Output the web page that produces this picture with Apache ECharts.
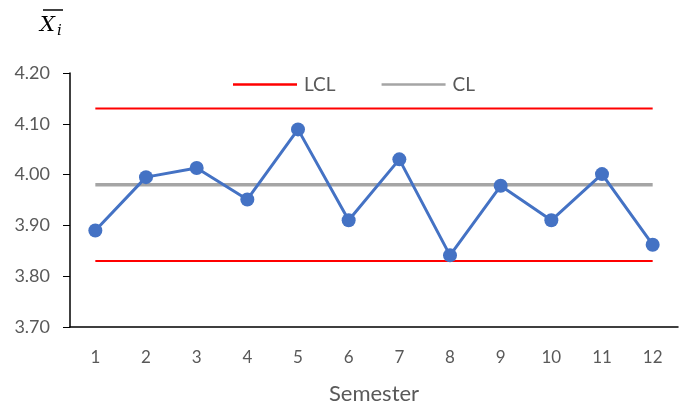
<!DOCTYPE html>
<html><head><meta charset="utf-8">
<script src="https://cdn.jsdelivr.net/npm/echarts@6/dist/echarts.min.js"></script>
<style>html,body{margin:0;padding:0;background:#fff}#c{width:687px;height:410px}</style>
</head><body><div id="c"></div>
<script>
var categories = ['1','2','3','4','5','6','7','8','9','10','11','12'];
var xbar = [3.89, 3.995, 4.013, 3.951, 4.089, 3.910, 4.030, 3.841, 3.978, 3.910, 4.001, 3.862];
var ucl = [4.13, 4.13, 4.13, 4.13, 4.13, 4.13, 4.13, 4.13, 4.13, 4.13, 4.13, 4.13];
var cl  = [3.98, 3.98, 3.98, 3.98, 3.98, 3.98, 3.98, 3.98, 3.98, 3.98, 3.98, 3.98];
var lcl = [3.83, 3.83, 3.83, 3.83, 3.83, 3.83, 3.83, 3.83, 3.83, 3.83, 3.83, 3.83];
var yTicks = {min: 3.7, max: 4.2, interval: 0.1};

var font = 'Lato, "Open Sans", sans-serif';
var chart = echarts.init(document.getElementById('c'));
chart.setOption({
  animation: false,
  backgroundColor: '#fff',
  grid: {left: 70, right: 9, top: 73, bottom: 83, containLabel: false},
  legend: {
    data: [{name: 'LCL', icon: 'rect'}, {name: 'CL', icon: 'rect'}],
    left: 228, top: 70,
    itemWidth: 64, itemHeight: 2.5, itemGap: 46,
    textStyle: {color: '#595959', fontSize: 19, fontFamily: font, padding: [0,0,0,2]}
  },
  graphic: [
    {type: 'text', left: 40, top: 15, style: {text: 'X', font: 'italic 21px "DejaVu Serif", serif', fill: '#000'}},
    {type: 'text', left: 57, top: 24, style: {text: 'i', font: 'italic 15px "DejaVu Serif", serif', fill: '#000'}},
    {type: 'line', shape: {x1: 43, y1: 10, x2: 63, y2: 10}, style: {stroke: '#000', lineWidth: 1.5}}
  ],
  xAxis: {
    type: 'category', data: categories, boundaryGap: true,
    name: 'Semester', nameLocation: 'middle', nameGap: 56,
    nameTextStyle: {color: '#595959', fontSize: 22, fontFamily: font},
    axisLine: {lineStyle: {color: '#000', width: 1.5}},
    axisTick: {show: false},
    axisLabel: {color: '#595959', fontSize: 17, fontFamily: font, margin: 22}
  },
  yAxis: {
    type: 'value', min: yTicks.min, max: yTicks.max, interval: yTicks.interval,
    axisLine: {show: true, lineStyle: {color: '#000', width: 1.5}},
    axisTick: {show: true, length: 7, lineStyle: {color: '#000'}},
    splitLine: {show: false},
    axisLabel: {color: '#595959', fontSize: 18, fontFamily: font, margin: 20,
      formatter: function (v) { return v.toFixed(2); }}
  },
  series: [
    {name: 'UCL', type: 'line', data: ucl, symbol: 'none', lineStyle: {color: '#FF0000', width: 2}, itemStyle: {color: '#FF0000'}, z: 1},
    {name: 'LCL', type: 'line', data: lcl, symbol: 'none', lineStyle: {color: '#FF0000', width: 2}, itemStyle: {color: '#FF0000'}, z: 1},
    {name: 'CL', type: 'line', data: cl, symbol: 'none', lineStyle: {color: '#A5A5A5', width: 3.5}, itemStyle: {color: '#A5A5A5'}, z: 1},
    {name: 'Xbar', type: 'line', data: xbar, symbol: 'circle', symbolSize: 14,
      lineStyle: {color: '#4472C4', width: 3}, itemStyle: {color: '#4472C4'}, z: 3}
  ]
});
</script></body></html>
